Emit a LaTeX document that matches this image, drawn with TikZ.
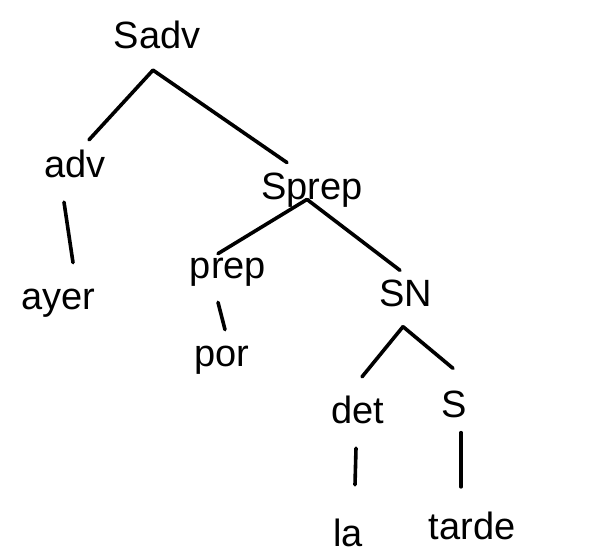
\documentclass[tikz,border=0pt]{standalone}
\usepackage{fontspec}
\setmainfont{Liberation Sans}
\usepackage{tikz}
\usetikzlibrary{calc}
\tikzset{
	cat/.style={font=\fontsize{38}{44}\selectfont, inner sep=4pt},
	branch/.style={line width=3.6pt, line cap=round}
}

\begin{document}
\begin{tikzpicture}[x=1pt, y=-1pt]

	\useasboundingbox (0,0) rectangle (600,557);

	% categories and words
	\path (157,35) node[cat] (sadv) {Sadv}
	(75,164) node[cat] (adv) {adv}
	(58,303) node[cat] (ayer) {ayer}
	(312,190) node[cat] (sprep) {Sprep}
	(228,272) node[cat] (prep) {prep}
	(222,360) node[cat] (por) {por}
	(406,293) node[cat] (sn) {SN}
	(358,410) node[cat] (det) {det}
	(454,404) node[cat] (s) {S}
	(348,533) node[cat] (la) {la}
	(472,526) node[cat] (tarde) {tarde};

	% branches
	\draw[branch] ($(sadv.south)+(-4,17)$) -- ($(adv.north)+(14,-6)$);
	\draw[branch] ($(sadv.south)+(-4,17)$) -- ($(sprep.north)+(-25,-6)$);
	\draw[branch] ($(adv.south)+(-11,20)$) -- ($(ayer.north)+(15,-22)$);
	\draw[branch] ($(sprep.south)+(-5,-12)$) -- ($(prep.north)+(-10,0)$);
	\draw[branch] ($(sprep.south)+(-5,-12)$) -- ($(sn.north)+(-6,-5)$);
	\draw[branch] ($(prep.south)+(-10,12)$) -- ($(por.north)+(3,-12)$);
	\draw[branch] ($(sn.south)+(-3,16)$) -- ($(det.north)+(4,-15)$);
	\draw[branch] ($(sn.south)+(-3,16)$) -- ($(s.north)+(-1,-18)$);
	\draw[branch] ($(det.south)+(-2,20)$) -- ($(la.north)+(7,-30)$);
	\draw[branch] ($(s.south)+(7,11)$) -- ($(tarde.north)+(-11,-21)$);

\end{tikzpicture}
\end{document}
